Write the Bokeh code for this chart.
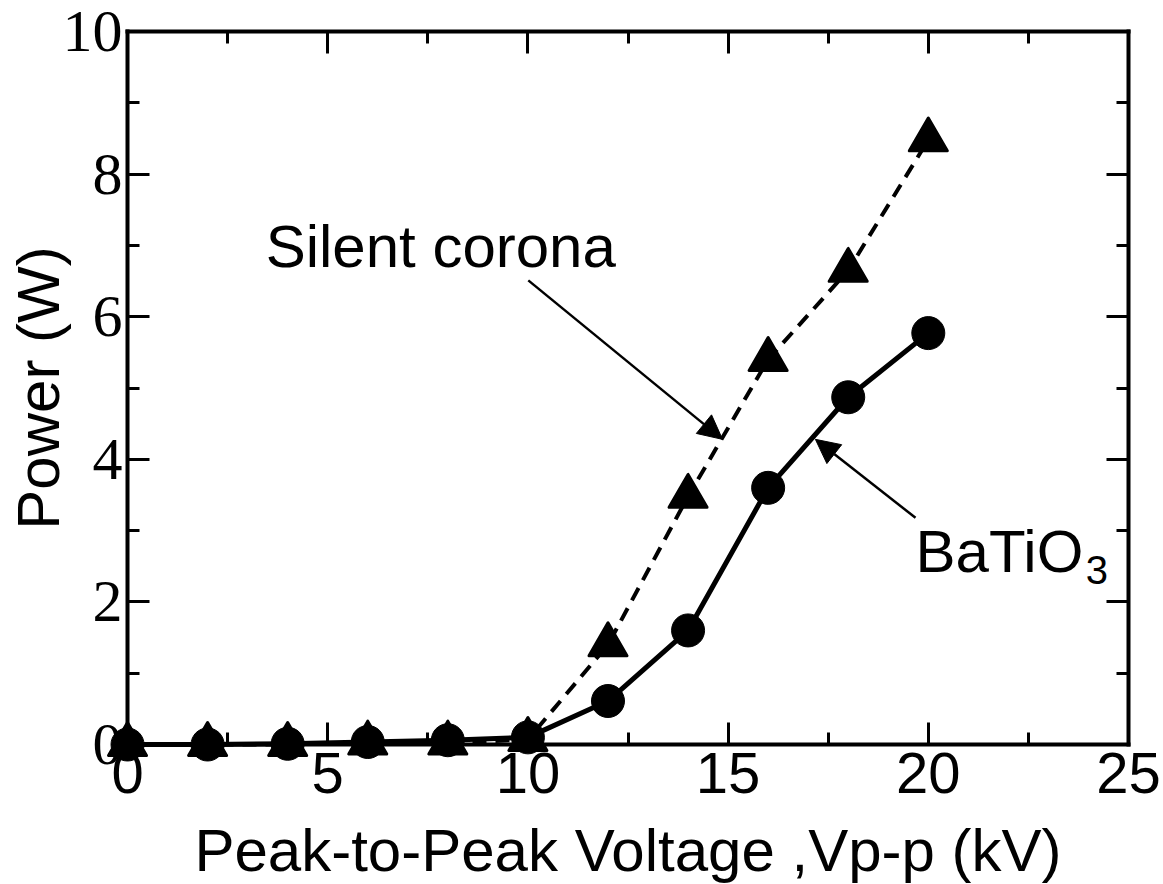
import math
from bokeh.plotting import figure
from bokeh.models import LinearAxis, SingleIntervalTicker, Range1d, Label, Arrow, NormalHead
from bokeh.embed import file_html
from bokeh.resources import INLINE

# ---- data ----
voltage = [0, 2, 4, 6, 8, 10, 12, 14, 16, 18, 20]
power_batio3 = [0.0, 0.0, 0.01, 0.035, 0.06, 0.10, 0.61, 1.60, 3.60, 4.87, 5.77]
power_silent = [0.0, 0.0, 0.0, 0.02, 0.02, 0.07, 1.40, 3.48, 5.40, 6.65, 8.48]
x_tick_interval = 5
y_tick_interval = 2
x_axis_span = (0, 25)
y_axis_span = (0, 10)
x_label = "Peak-to-Peak Voltage ,Vp-p (kV)"
y_label = "Power (W)"
label_silent = "Silent corona"
label_batio = "BaTiO"
label_batio_sub = "3"

# ---- annotation placement (data coordinates) ----
silent_text_pos = (3.45, 6.99)
silent_arrow = (10.01, 6.51, 14.86, 4.28)
batio_text_pos = (19.68, 2.70)
batio_sub_pos = (23.93, 2.45)
batio_arrow = (19.68, 3.18, 17.18, 4.28)
x_title_pos = (12.5, -1.49)
y_title_pos = (-2.22, 5.0)

# the frame covers the whole canvas so that markers on the axes are not clipped;
# the axes are drawn at fixed data locations inside it
p = figure(width=1163, height=884, output_backend="svg", toolbar_location=None,
           x_range=Range1d(-3.172, 25.874), y_range=Range1d(-1.9635, 10.435),
           x_axis_location=None, y_axis_location=None,
           min_border=0, min_border_left=0, min_border_right=0,
           min_border_top=0, min_border_bottom=0)
p.outline_line_color = None
p.background_fill_color = "white"
p.border_fill_color = "white"
p.xgrid.visible = False
p.ygrid.visible = False


def style_axis(ax, interval, font, size, standoff, show, span):
    ax.ticker = SingleIntervalTicker(interval=interval, num_minor_ticks=2)
    ax.axis_line_width = 4
    ax.axis_line_color = "black"
    ax.axis_line_cap = "square"
    ax.major_tick_in = 22
    ax.major_tick_out = 0
    ax.minor_tick_in = 12
    ax.minor_tick_out = 0
    ax.major_tick_line_width = 3
    ax.minor_tick_line_width = 3
    ax.major_tick_line_color = "black"
    ax.minor_tick_line_color = "black"
    ax.major_label_text_font = font
    ax.major_label_text_color = "black"
    ax.major_label_standoff = standoff
    ax.major_label_text_font_size = size
    if not show:
        ax.major_label_overrides = {t: "" for t in range(span[0], span[1] + 1, interval)}


bottom = LinearAxis(fixed_location=y_axis_span[0], bounds=x_axis_span)
style_axis(bottom, x_tick_interval, "Liberation Sans", "58px", 8, True, x_axis_span)
p.add_layout(bottom, "below")

left = LinearAxis(fixed_location=x_axis_span[0], bounds=y_axis_span)
style_axis(left, y_tick_interval, "Liberation Serif", "60px", 5, True, y_axis_span)
p.add_layout(left, "left")

top = LinearAxis(fixed_location=y_axis_span[1], bounds=x_axis_span)
style_axis(top, x_tick_interval, "Liberation Sans", "58px", 0, False, x_axis_span)
p.add_layout(top, "above")

right = LinearAxis(fixed_location=x_axis_span[1], bounds=y_axis_span)
style_axis(right, y_tick_interval, "Liberation Serif", "60px", 0, False, y_axis_span)
p.add_layout(right, "right")

# ---- series ----
p.line(voltage, power_silent, line_color="black", line_width=4, line_dash="14 9")
p.line(voltage, power_batio3, line_color="black", line_width=5, line_join="round")
p.scatter(voltage, power_silent, marker="triangle", size=38, fill_color="black",
          line_color="black", line_width=3, line_join="round")
p.scatter(voltage, power_batio3, marker="circle", size=33, fill_color="black",
          line_color="black")

# ---- axis titles ----
p.add_layout(Label(x=x_title_pos[0], y=x_title_pos[1], text=x_label, text_align="center",
                   text_baseline="alphabetic", text_font="Liberation Sans",
                   text_font_size="60px", text_color="black"))
p.add_layout(Label(x=y_title_pos[0], y=y_title_pos[1], text=y_label, angle=math.pi / 2,
                   text_align="center", text_baseline="alphabetic",
                   text_font="Liberation Sans", text_font_size="60px", text_color="black"))

# ---- annotations ----
p.add_layout(Label(x=silent_text_pos[0], y=silent_text_pos[1], text=label_silent,
                   text_baseline="alphabetic", text_font="Liberation Sans",
                   text_font_size="60px", text_color="black"))
p.add_layout(Label(x=batio_text_pos[0], y=batio_text_pos[1], text=label_batio,
                   text_baseline="alphabetic", text_font="Liberation Sans",
                   text_font_size="60px", text_color="black"))
p.add_layout(Label(x=batio_sub_pos[0], y=batio_sub_pos[1], text=label_batio_sub,
                   text_baseline="alphabetic", text_font="Liberation Sans",
                   text_font_size="40px", text_color="black"))

for (xs, ys, xe, ye) in (silent_arrow, batio_arrow):
    p.add_layout(Arrow(x_start=xs, y_start=ys, x_end=xe, y_end=ye, line_width=2.5,
                       line_color="black",
                       end=NormalHead(size=24, fill_color="black", line_color="black",
                                      line_width=1)))

open("out.html", "w").write(file_html(p, INLINE))
